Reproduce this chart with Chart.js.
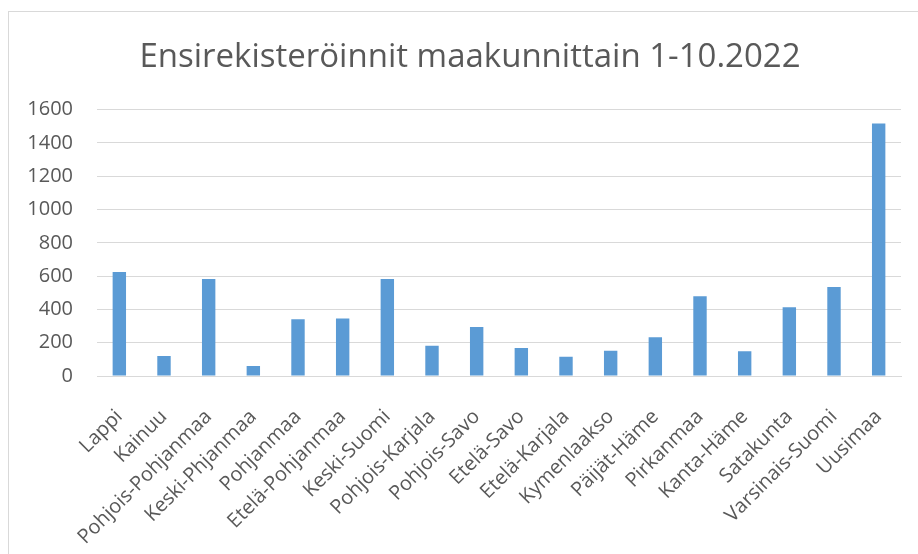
<!DOCTYPE html>
<html>
<head>
<meta charset="utf-8">
<script src="https://cdn.jsdelivr.net/npm/chart.js@4/dist/chart.umd.min.js"></script>
<style>
  html, body { margin: 0; padding: 0; background: #fff; overflow: hidden; }
  #wrap {
    position: absolute; left: 8px; top: 11px;
    width: 924px; height: 560px;
    border-left: 1px solid #d9d9d9; border-top: 1px solid #d9d9d9;
  }
</style>
</head>
<body>
<div id="wrap"><canvas id="chart"></canvas></div>
<script>
"use strict"

// maakunnat
const regions = [
    "Lappi", "Kainuu", "Pohjois-Pohjanmaa", "Keski-Phjanmaa", "Pohjanmaa",
    "Etelä-Pohjanmaa", "Keski-Suomi", "Pohjois-Karjala", "Pohjois-Savo",
    "Etelä-Savo", "Etelä-Karjala", "Kymenlaakso", "Päijät-Häme", "Pirkanmaa",
    "Kanta-Häme", "Satakunta", "Varsinais-Suomi", "Uusimaa"
];
// ensirekisteröinnit 1-10.2022
const registrations = [
    624, 120, 583, 60, 341, 345, 583, 182, 295,
    168, 116, 152, 233, 479, 148, 413, 535, 1516
];
const yTicks = [0, 200, 400, 600, 800, 1000, 1200, 1400, 1600];

const grey = "#595959";
const fontFamily = "'Open Sans', Lato, sans-serif";

// otsikko keskelle koko kaavioaluetta (ei piirtoalueen mukaan)
const titleShift = {
    id: "titleShift",
    afterLayout: function (chart) {
        if (chart.titleBlock) {
            chart.titleBlock.left += 15;
            chart.titleBlock.right += 15;
        }
    }
};

new Chart(document.getElementById("chart"), {
    type: "bar",
    data: {
        labels: regions,
        datasets: [{
            data: registrations,
            backgroundColor: "#5b9bd5",
            borderWidth: 0,
            barPercentage: 0.3,
            categoryPercentage: 1
        }]
    },
    plugins: [titleShift],
    options: {
        responsive: true,
        maintainAspectRatio: false,
        animation: false,
        layout: { padding: { left: 0, right: 32, top: 0, bottom: 0 } },
        plugins: {
            legend: { display: false },
            tooltip: { enabled: false },
            title: {
                display: true,
                text: "Ensirekisteröinnit maakunnittain 1-10.2022",
                color: grey,
                font: { family: fontFamily, size: 33, weight: "normal" },
                padding: { top: 26, bottom: 32 }
            }
        },
        scales: {
            x: {
                grid: { display: false },
                border: { color: "#d9d9d9", width: 1 },
                ticks: {
                    color: grey,
                    font: { family: fontFamily, size: 20 },
                    maxRotation: 45,
                    minRotation: 45,
                    autoSkip: false,
                    padding: 21
                },
                afterFit: function (scale) { scale.height = 196; }
            },
            y: {
                min: 0,
                max: 1600,
                afterBuildTicks: function (scale) {
                    scale.ticks = yTicks.map(v => ({ value: v }));
                },
                grid: { color: "#d9d9d9", lineWidth: 1, drawTicks: false },
                border: { display: false },
                ticks: {
                    color: grey,
                    font: { family: fontFamily, size: 20 },
                    padding: 24,
                    callback: function (value) { return String(value); }
                },
                afterFit: function (scale) { scale.width = 88; }
            }
        }
    }
});
</script>
</body>
</html>
